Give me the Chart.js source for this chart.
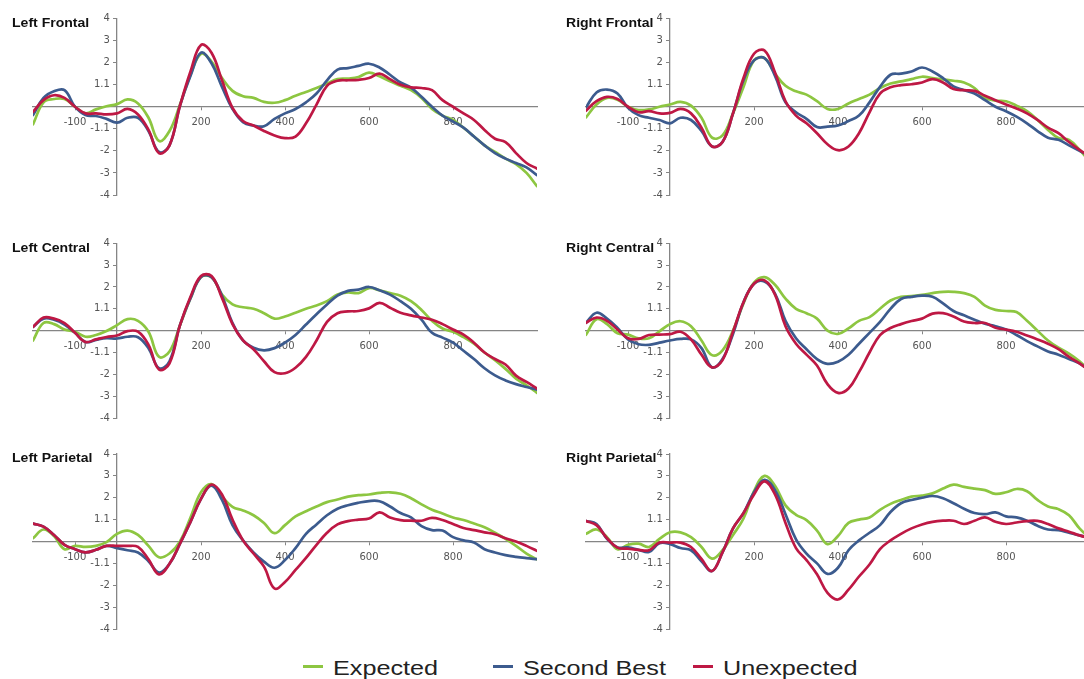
<!DOCTYPE html>
<html>
<head>
<meta charset="utf-8">
<title>ERP waveforms by region</title>
<script src="https://cdn.jsdelivr.net/npm/chart.js@4.4.1/dist/chart.umd.min.js"></script>
<style>
  html, body { margin: 0; padding: 0; background: #fff; }
  body { width: 1084px; height: 679px; overflow: hidden; position: relative;
         font-family: "Liberation Sans", Arial, sans-serif; }
  canvas { position: absolute; }
  .title { position: absolute; z-index: 2; font-weight: bold; font-size: 12px; line-height: 12px;
           color: #111; white-space: nowrap; transform: scaleX(1.17); transform-origin: 0 0; }
  .key { position: absolute; top: 657px; height: 24px; z-index: 2; }
  .key i { position: absolute; left: 0; top: 8px; width: 20px; height: 3px; }
  .key span { position: absolute; left: 30px; top: 0; font-size: 21px; line-height: 21px; color: #222;
              white-space: nowrap; transform: scaleX(1.2); transform-origin: 0 0; }
</style>
</head>
<body>
<script>
// Time points (ms) of every sample
const times = [-200, -175, -150, -125, -100, -75, -50, -25, 0, 25, 50, 75, 100, 125, 150, 175, 200,
  225, 250, 275, 300, 325, 350, 375, 400, 425, 450, 475, 500, 525, 550, 575, 600, 625, 650, 675,
  700, 725, 750, 775, 800, 825, 850, 875, 900, 925, 950, 975, 1000];

// Axis ticks
const xTickValues = [-100, 200, 400, 600, 800];
const xTickLabels = ['-100', '200', '400', '600', '800'];
const yTickValues = [4, 3, 2, 1, -1, -2, -3, -4];
const yTickLabels = ['4', '3', '2', '1.1', '-1.1', '-2', '-3', '-4'];

// Series
const seriesNames = ['Expected', 'Second Best', 'Unexpected'];
const seriesColors = ['#8dc641', '#3c5b8e', '#be1844'];

// Amplitudes (µV) per region and condition
const leftFrontalExpected = [-0.8, 0.2, 0.35, 0.35, 0.0, -0.3, -0.12, 0.02, 0.12, 0.33, 0.15, -0.5, -1.55, -1.1, 0.1, 1.45, 2.4, 2.05, 1.3, 0.72, 0.48, 0.4, 0.22, 0.18, 0.3, 0.5, 0.67, 0.85, 1.05, 1.25, 1.28, 1.35, 1.55, 1.38, 1.15, 0.95, 0.75, 0.4, -0.1, -0.4, -0.6, -0.95, -1.35, -1.75, -2.05, -2.35, -2.6, -3.0, -3.6];
const leftFrontalSecondBest = [-0.38, 0.4, 0.7, 0.75, 0.0, -0.38, -0.42, -0.55, -0.72, -0.5, -0.5, -1.1, -2.05, -1.75, 0.05, 1.4, 2.45, 1.97, 0.9, -0.1, -0.7, -0.85, -0.88, -0.55, -0.3, -0.1, 0.2, 0.6, 1.2, 1.68, 1.75, 1.85, 1.95, 1.78, 1.45, 1.1, 0.87, 0.45, 0.0, -0.4, -0.67, -0.95, -1.35, -1.75, -2.1, -2.35, -2.55, -2.75, -3.1];
const leftFrontalUnexpected = [-0.23, 0.3, 0.52, 0.4, 0.0, -0.3, -0.3, -0.35, -0.3, -0.1, -0.35, -1.05, -2.1, -1.75, 0.05, 1.6, 2.8, 2.45, 1.2, -0.05, -0.65, -0.85, -1.1, -1.3, -1.42, -1.35, -0.75, 0.1, 0.95, 1.18, 1.2, 1.22, 1.3, 1.5, 1.25, 1.0, 0.88, 0.85, 0.75, 0.3, 0.0, -0.3, -0.6, -1.05, -1.45, -1.6, -2.1, -2.55, -2.8];

const rightFrontalExpected = [-0.48, 0.1, 0.4, 0.32, 0.0, -0.15, -0.12, 0.0, 0.1, 0.22, 0.05, -0.5, -1.4, -1.3, -0.3, 0.9, 2.1, 2.2, 1.5, 0.95, 0.7, 0.55, 0.25, -0.1, -0.1, 0.15, 0.35, 0.55, 0.85, 1.05, 1.15, 1.25, 1.36, 1.3, 1.24, 1.18, 1.1, 0.85, 0.4, 0.28, 0.25, 0.05, -0.2, -0.6, -1.05, -1.42, -1.5, -1.95, -2.5];
const rightFrontalSecondBest = [-0.03, 0.65, 0.78, 0.6, -0.05, -0.38, -0.5, -0.6, -0.75, -0.5, -0.6, -1.1, -1.8, -1.6, -0.3, 1.2, 2.1, 2.2, 1.4, 0.2, -0.25, -0.55, -0.92, -0.9, -0.85, -0.65, -0.4, 0.2, 0.9, 1.45, 1.5, 1.6, 1.78, 1.6, 1.3, 0.92, 0.75, 0.6, 0.3, 0.0, -0.2, -0.45, -0.75, -1.1, -1.4, -1.5, -1.75, -2.0, -2.25];
const rightFrontalUnexpected = [-0.18, 0.25, 0.45, 0.35, 0.0, -0.25, -0.2, -0.3, -0.28, -0.1, -0.3, -0.95, -1.8, -1.6, -0.3, 1.3, 2.4, 2.55, 1.55, 0.25, -0.4, -0.75, -1.2, -1.7, -1.97, -1.8, -1.2, -0.25, 0.6, 0.88, 0.98, 1.02, 1.1, 1.25, 1.1, 0.8, 0.75, 0.72, 0.5, 0.3, 0.1, -0.08, -0.3, -0.6, -0.95, -1.2, -1.6, -1.95, -2.25];

const leftCentralExpected = [-0.45, 0.35, 0.3, 0.05, -0.05, -0.28, -0.2, -0.02, 0.25, 0.53, 0.45, -0.05, -1.2, -0.95, 0.25, 1.48, 2.45, 2.45, 1.65, 1.2, 1.07, 1.0, 0.8, 0.55, 0.65, 0.82, 1.0, 1.15, 1.35, 1.65, 1.75, 1.72, 1.95, 1.85, 1.72, 1.6, 1.35, 0.95, 0.45, 0.1, -0.05, -0.3, -0.6, -1.0, -1.35, -1.75, -2.2, -2.5, -2.85];
const leftCentralSecondBest = [0.17, 0.55, 0.5, 0.28, -0.1, -0.52, -0.42, -0.34, -0.36, -0.28, -0.3, -0.8, -1.72, -1.4, 0.25, 1.48, 2.45, 2.45, 1.6, 0.35, -0.45, -0.78, -0.9, -0.8, -0.55, -0.2, 0.28, 0.75, 1.2, 1.6, 1.82, 1.88, 2.0, 1.85, 1.65, 1.35, 1.0, 0.5, -0.1, -0.32, -0.55, -0.92, -1.3, -1.72, -2.05, -2.28, -2.45, -2.58, -2.7];
const leftCentralUnexpected = [0.17, 0.6, 0.55, 0.35, -0.1, -0.52, -0.4, -0.29, -0.22, -0.02, -0.05, -0.65, -1.78, -1.5, 0.25, 1.55, 2.5, 2.5, 1.5, 0.3, -0.45, -0.85, -1.4, -1.9, -1.95, -1.7, -1.2, -0.45, 0.4, 0.8, 0.88, 0.9, 1.02, 1.27, 1.05, 0.82, 0.7, 0.6, 0.5, 0.3, 0.05, -0.18, -0.55, -1.0, -1.3, -1.55, -2.06, -2.35, -2.65];

const rightCentralExpected = [-0.19, 0.52, 0.3, -0.12, -0.18, -0.35, -0.35, -0.03, 0.3, 0.43, 0.2, -0.45, -1.12, -0.9, 0.0, 1.25, 2.2, 2.45, 2.1, 1.47, 1.0, 0.8, 0.55, 0.0, -0.15, 0.1, 0.45, 0.62, 1.0, 1.38, 1.55, 1.58, 1.64, 1.72, 1.78, 1.78, 1.72, 1.55, 1.15, 0.95, 0.9, 0.85, 0.45, 0.0, -0.45, -0.78, -1.05, -1.4, -1.85];
const rightCentralSecondBest = [0.36, 0.82, 0.55, 0.12, -0.4, -0.62, -0.65, -0.55, -0.45, -0.38, -0.4, -0.8, -1.68, -1.3, -0.15, 1.3, 2.15, 2.25, 1.7, 0.45, -0.35, -0.85, -1.3, -1.52, -1.42, -1.1, -0.6, -0.1, 0.4, 1.0, 1.45, 1.55, 1.6, 1.55, 1.25, 0.9, 0.7, 0.5, 0.32, 0.2, 0.05, -0.2, -0.48, -0.72, -0.95, -1.1, -1.3, -1.5, -1.85];
const rightCentralUnexpected = [0.36, 0.6, 0.45, 0.05, -0.35, -0.38, -0.2, -0.18, -0.16, -0.05, -0.4, -1.1, -1.68, -1.35, -0.05, 1.3, 2.15, 2.3, 1.65, 0.2, -0.6, -1.1, -1.6, -2.45, -2.85, -2.65, -1.9, -1.0, -0.2, 0.12, 0.3, 0.44, 0.55, 0.78, 0.8, 0.65, 0.42, 0.35, 0.35, 0.13, 0.05, -0.05, -0.22, -0.4, -0.6, -0.85, -1.2, -1.5, -1.85];

const leftParietalExpected = [0.15, 0.55, 0.25, -0.35, -0.2, -0.25, -0.2, -0.03, 0.35, 0.5, 0.3, -0.2, -0.72, -0.55, 0.0, 1.1, 2.25, 2.62, 2.05, 1.58, 1.42, 1.2, 0.85, 0.38, 0.75, 1.15, 1.38, 1.6, 1.8, 1.92, 2.05, 2.12, 2.15, 2.22, 2.25, 2.18, 1.98, 1.7, 1.45, 1.28, 1.1, 0.98, 0.82, 0.65, 0.4, 0.12, -0.2, -0.55, -0.82];
const leftParietalSecondBest = [0.82, 0.68, 0.3, -0.15, -0.35, -0.5, -0.38, -0.2, -0.3, -0.4, -0.5, -0.9, -1.42, -1.02, -0.1, 0.9, 1.95, 2.55, 1.9, 0.75, 0.05, -0.5, -0.92, -1.2, -0.85, -0.3, 0.35, 0.78, 1.2, 1.5, 1.66, 1.77, 1.85, 1.84, 1.6, 1.3, 1.1, 0.7, 0.52, 0.5, 0.2, 0.05, -0.05, -0.35, -0.5, -0.62, -0.7, -0.76, -0.81];
const leftParietalUnexpected = [0.82, 0.68, 0.3, -0.15, -0.35, -0.5, -0.38, -0.2, -0.2, -0.2, -0.25, -0.82, -1.5, -1.02, -0.1, 0.9, 1.95, 2.6, 2.15, 1.0, 0.05, -0.55, -1.15, -2.15, -1.85, -1.3, -0.75, -0.15, 0.4, 0.78, 0.93, 1.0, 1.05, 1.33, 1.1, 0.98, 0.95, 0.95, 1.08, 0.98, 0.8, 0.62, 0.52, 0.42, 0.33, 0.15, 0.0, -0.2, -0.43];

const rightParietalExpected = [0.35, 0.55, 0.2, -0.35, -0.15, -0.1, -0.25, 0.12, 0.42, 0.42, 0.2, -0.25, -0.78, -0.4, 0.3, 1.05, 2.3, 3.0, 2.55, 1.65, 1.22, 0.98, 0.5, -0.12, 0.25, 0.85, 1.0, 1.1, 1.45, 1.72, 1.9, 2.05, 2.1, 2.2, 2.42, 2.6, 2.5, 2.42, 2.35, 2.18, 2.25, 2.4, 2.3, 1.9, 1.6, 1.48, 1.2, 0.6, 0.15];
const rightParietalSecondBest = [0.94, 0.8, 0.12, -0.27, -0.27, -0.38, -0.48, -0.08, -0.12, -0.3, -0.4, -0.9, -1.35, -0.5, 0.6, 1.3, 2.25, 2.82, 2.35, 1.25, 0.1, -0.55, -1.0, -1.48, -1.2, -0.4, 0.05, 0.4, 0.75, 1.35, 1.75, 1.9, 2.0, 2.08, 1.98, 1.75, 1.5, 1.3, 1.25, 1.33, 1.15, 1.1, 0.95, 0.72, 0.55, 0.52, 0.4, 0.28, 0.15];
const rightParietalUnexpected = [0.94, 0.75, 0.15, -0.28, -0.33, -0.38, -0.4, -0.05, -0.05, -0.05, -0.25, -0.8, -1.35, -0.5, 0.6, 1.3, 2.15, 2.75, 2.15, 0.85, -0.3, -0.85, -1.5, -2.35, -2.65, -2.2, -1.6, -1.05, -0.35, 0.05, 0.35, 0.6, 0.78, 0.9, 0.95, 0.95, 0.8, 0.95, 1.1, 0.9, 0.8, 0.87, 0.93, 0.94, 0.8, 0.6, 0.45, 0.28, 0.15];

const panels = [
  { title: 'Left Frontal',   col: 0, row: 0, series: [leftFrontalExpected,   leftFrontalSecondBest,   leftFrontalUnexpected] },
  { title: 'Right Frontal',  col: 1, row: 0, series: [rightFrontalExpected,  rightFrontalSecondBest,  rightFrontalUnexpected] },
  { title: 'Left Central',   col: 0, row: 1, series: [leftCentralExpected,   leftCentralSecondBest,   leftCentralUnexpected] },
  { title: 'Right Central',  col: 1, row: 1, series: [rightCentralExpected,  rightCentralSecondBest,  rightCentralUnexpected] },
  { title: 'Left Parietal',  col: 0, row: 2, series: [leftParietalExpected,  leftParietalSecondBest,  leftParietalUnexpected] },
  { title: 'Right Parietal', col: 1, row: 2, series: [rightParietalExpected, rightParietalSecondBest, rightParietalUnexpected] }
];

// Page layout
const colLeft = [0, 553];
const colTitleX = [12, 566];
const rowTop = [0, 225, 436];
const rowPadTop = [18.5, 18.3, 18];
const rowHeight = [213, 211, 211];
const rowTitleY = [17, 242, 452];
const canvasWidth = 560;
// The value labels sit on their own axis a few ms left of the zero line
const yLabelAxisAt = -17;

const tickFont = { family: '"DejaVu Sans", sans-serif', size: 10 };
const axisGrey = '#858585';

function labelFor(values, labels) {
  return v => { const i = values.indexOf(v); return i < 0 ? '' : labels[i]; };
}
const setYTicks = axis => { axis.ticks = yTickValues.map(v => ({ value: v })); };

panels.forEach(p => {
  const cv = document.createElement('canvas');
  cv.width = canvasWidth;
  cv.height = rowHeight[p.row];
  cv.style.left = colLeft[p.col] + 'px';
  cv.style.top = rowTop[p.row] + 'px';
  cv.style.width = canvasWidth + 'px';
  cv.style.height = rowHeight[p.row] + 'px';
  document.body.appendChild(cv);

  const t = document.createElement('div');
  t.className = 'title';
  t.textContent = p.title;
  t.style.left = colTitleX[p.col] + 'px';
  t.style.top = rowTitleY[p.row] + 'px';
  document.body.appendChild(t);

  const datasets = p.series.map((vals, k) => ({
    label: seriesNames[k],
    data: times.map((ms, i) => ({ x: ms, y: vals[i] })),
    borderColor: seriesColors[k],
    backgroundColor: seriesColors[k],
    order: 2 - k
  }));

  new Chart(cv, {
    type: 'line',
    data: { datasets },
    options: {
      responsive: false,
      animation: false,
      devicePixelRatio: 1,
      layout: { padding: { left: 33, right: 23, top: rowPadTop[p.row], bottom: 18 } },
      plugins: { legend: { display: false }, tooltip: { enabled: false }, title: { display: false } },
      elements: {
        point: { radius: 0, hoverRadius: 0 },
        line: { borderWidth: 2.7, tension: 0.4, borderCapStyle: 'round', borderJoinStyle: 'round', fill: false }
      },
      scales: {
        x: {
          type: 'linear', min: -200, max: 1000,
          position: { y: 0 },
          afterBuildTicks: axis => { axis.ticks = xTickValues.map(v => ({ value: v })); },
          ticks: { callback: labelFor(xTickValues, xTickLabels), font: tickFont, color: '#555',
                   padding: 7, maxRotation: 0, autoSkip: false },
          grid: { display: true, drawOnChartArea: false, drawTicks: true, tickLength: 3, color: axisGrey },
          border: { display: true, color: axisGrey, width: 1.3 }
        },
        y: {
          type: 'linear', min: -4, max: 4,
          position: { x: 0 },
          afterBuildTicks: setYTicks,
          ticks: { display: false },
          grid: { display: true, drawOnChartArea: false, drawTicks: true, tickLength: 3, color: axisGrey },
          border: { display: true, color: axisGrey, width: 1.3 }
        },
        yLabels: {
          axis: 'y', type: 'linear', min: -4, max: 4,
          position: { x: yLabelAxisAt },
          afterBuildTicks: setYTicks,
          ticks: { callback: labelFor(yTickValues, yTickLabels), font: tickFont, color: '#555',
                   padding: 0, autoSkip: false },
          grid: { display: false, drawTicks: false },
          border: { display: false }
        }
      }
    }
  });
});

// Shared legend
const keyLeft = [303, 493, 693];
seriesNames.forEach((name, k) => {
  const d = document.createElement('div');
  d.className = 'key';
  d.style.left = keyLeft[k] + 'px';
  const i = document.createElement('i');
  i.style.background = seriesColors[k];
  const s = document.createElement('span');
  s.textContent = name;
  d.appendChild(i);
  d.appendChild(s);
  document.body.appendChild(d);
});
</script>
</body>
</html>
